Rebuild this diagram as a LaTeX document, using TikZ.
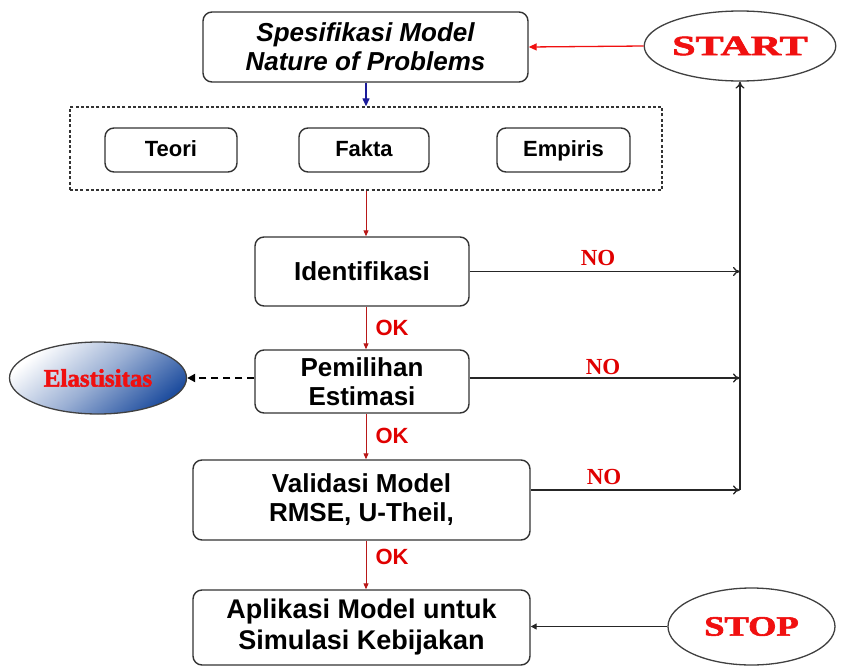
\documentclass[tikz,border=0pt]{standalone}
\usepackage{fontspec}
\setmainfont{Liberation Sans}
\newfontfamily\tnr{Liberation Serif}
\newfontfamily\heavy[BoldFeatures={FakeBold=2}]{Liberation Serif}
\usetikzlibrary{shapes.geometric,arrows.meta,calc}
\definecolor{startred}{HTML}{F01010}
\definecolor{okred}{HTML}{E00000}
\definecolor{darkred}{HTML}{B81818}
\definecolor{darkblue}{HTML}{1A1A9A}
\definecolor{elblue}{HTML}{1F4E9F}
\begin{document}
\begin{tikzpicture}[x=1pt,y=-1pt,
  box/.style={draw=black!80, line width=1.4pt, rounded corners=9pt, align=center,
    font=\bfseries\fontsize{26}{29}\selectfont, inner sep=0pt},
  smallbox/.style={box, font=\bfseries\fontsize{22}{26}\selectfont, text height=16pt, text depth=4pt},
  oval/.style={ellipse, draw=black!75, line width=1.3pt, inner sep=0pt},
  oklabel/.style={anchor=west, text=okred, font=\bfseries\fontsize{22}{24}\selectfont},
  nolabel/.style={text=okred, font=\tnr\bfseries\fontsize{23}{25}\selectfont},
  redarrow/.style={draw=darkred, line width=1pt, -{Triangle[length=6pt,width=5pt]}},
  noarrow/.style={draw=black!85, line width=1.3pt, -{To[length=7pt,width=9pt]}}
]
\useasboundingbox (0,0) rectangle (844,667);

% nodes
\node[box, minimum width=325pt, minimum height=70pt, font=\bfseries\itshape\fontsize{26}{29}\selectfont]
  (spec) at (365.5,47) {Spesifikasi Model\\Nature of Problems};
\node[oval, minimum width=181pt, minimum height=70pt] (start) at (740,46)
  {\heavy\bfseries\fontsize{28}{30}\selectfont\color{startred}\scalebox{1.5}[1]{START}};
\node[draw=black!80, line width=1.4pt, dash pattern=on 3pt off 2.2pt, minimum width=592pt,
  minimum height=83pt, inner sep=0pt] (group) at (366,148.5) {};
\node[smallbox, minimum width=132pt, minimum height=44pt] (teori) at (171,150) {Teori};
\node[smallbox, minimum width=130pt, minimum height=44pt] (fakta) at (364,150) {Fakta};
\node[smallbox, minimum width=133pt, minimum height=44pt] (empiris) at (563.5,150) {Empiris};
\node[box, minimum width=214pt, minimum height=69pt] (ident) at (362,271.5) {Identifikasi};
\node[box, minimum width=214pt, minimum height=63pt] (pemil) at (362,381.5) {Pemilihan\\Estimasi};
\node[box, minimum width=337pt, minimum height=80pt] (valid) at (361.5,500) {Validasi Model\\RMSE, U-Theil,};
\node[box, minimum width=337pt, minimum height=75pt, font=\bfseries\fontsize{27}{31}\selectfont]
  (aplik) at (361.5,627.5) {Aplikasi Model untuk\\Simulasi Kebijakan};
\node[oval, minimum width=167pt, minimum height=77pt] (stop) at (751.5,626.5)
  {\heavy\bfseries\fontsize{28}{30}\selectfont\color{startred}\scalebox{1.3}[1]{STOP}};
\node[oval, minimum width=177pt, minimum height=72pt, top color=white, bottom color=elblue,
  middle color=elblue!45, shading angle=40] (elast) at (98,378)
  {\heavy\bfseries\fontsize{25}{27}\selectfont\color{startred}Elastisitas};

% helper column
\coordinate (ax) at (366,0);
\coordinate (vx) at (740,0);

% connectors
\draw[draw=startred, line width=1.3pt, -{Triangle[length=8pt,width=7pt]}] (start.west) -- (spec.east);
\draw[draw=darkblue, line width=1.3pt, -{Triangle[length=8pt,width=7pt]}] (spec.south -| ax) -- (group.north -| ax);
\draw[redarrow] (group.south -| ax) -- (ident.north -| ax);
\draw[redarrow] (ident.south -| ax) -- (pemil.north -| ax);
\draw[redarrow] (pemil.south -| ax) -- (valid.north -| ax);
\draw[redarrow] (valid.south -| ax) -- (aplik.north -| ax);

\coordinate (n1) at (ident.east -| vx);
\coordinate (n2) at ($(pemil.east -| vx)+(0,-3.5)$);
\coordinate (n3) at ($(valid.east -| vx)+(0,-10)$);
\draw[noarrow] (ident.east) -- (n1);
\draw[noarrow] ($(pemil.east)+(0,-3.5)$) -- (n2);
\draw[noarrow] ($(valid.east)+(0,-10)$) -- (n3);
\draw[noarrow] (n3) -- (start.south);

\draw[draw=black, line width=2.2pt, dash pattern=on 7pt off 5pt, -{Triangle[length=8pt,width=8pt]}]
  (pemil.west |- elast.east) -- (elast.east);
\draw[draw=black!85, line width=1.3pt, -{Triangle[length=6pt,width=6pt]}] (stop.west) -- (aplik.east |- stop.west);

% labels
\node[oklabel] (ok1) at (372,328) {OK};
\node[oklabel] (ok2) at (372,436) {OK};
\node[oklabel] (ok3) at (372,557) {OK};
\node[nolabel] (no1) at (598,258) {NO};
\node[nolabel] (no2) at (603,367) {NO};
\node[nolabel] (no3) at (604,477) {NO};
\end{tikzpicture}
\end{document}
